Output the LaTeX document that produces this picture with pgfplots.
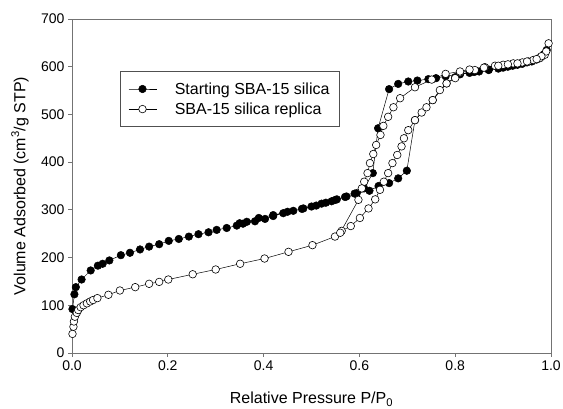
\documentclass[border=0pt]{standalone}
\usepackage{fontspec}
\setmainfont{Liberation Sans}
\usepackage{pgfplots}
\pgfplotsset{compat=1.18}
\definecolor{axgray}{gray}{0.45}

\begin{document}
\begin{tikzpicture}
\begin{axis}[
    name=ax,
    scale only axis,
    width=479pt, height=334pt,
    xmin=0, xmax=1, ymin=0, ymax=700,
    xtick={0,0.2,0.4,0.6,0.8,1.0},
    ytick={0,100,200,300,400,500,600,700},
    xticklabel style={/pgf/number format/.cd, fixed, fixed zerofill, precision=1},
    /pgf/number format/assume math mode=true,
    tick label style={font=\fontsize{14}{16}\selectfont},
    tick align=outside, tick pos=left,
    major tick length=4pt,
    axis line style={axgray, line width=0.9pt},
    every tick/.style={axgray, line width=0.9pt},
    legend style={at={(rel axis cs:0.1,0.844)}, anchor=north west,
        draw=axgray!70!black, line width=0.7pt,
        font=\fontsize{16}{19}\selectfont,
        cells={anchor=west}, inner xsep=8pt, inner ysep=9pt, row sep=3pt,
        /tikz/every odd column/.append style={column sep=16pt}},
    legend image code/.code={
        \draw[mark repeat=2, mark phase=2] plot coordinates {(0pt,0pt) (14pt,0pt) (28pt,0pt)};},
]
% starting SBA-15 silica: adsorption then desorption
\addplot[black, line width=0.5pt, mark=*, mark size=3.8pt, mark options={fill=black}] coordinates {
(0.001,92) (0.005,123) (0.008,138) (0.020,154) (0.039,173) (0.054,183) (0.064,187)
(0.078,194) (0.102,205) (0.121,210) (0.142,217) (0.161,223) (0.182,228) (0.202,235)
(0.223,239) (0.244,244) (0.264,249) (0.285,253) (0.302,258) (0.323,262) (0.344,267)
(0.357,271) (0.382,276) (0.403,281) (0.420,287) (0.441,293) (0.462,298) (0.483,303)
(0.500,307) (0.521,313) (0.542,318) (0.553,322) (0.573,328) (0.594,335) (0.621,340)
(0.640,350) (0.662,356) (0.681,366) (0.699,382)
(0.716,488) (0.753,530) (0.782,565) (0.800,578) (0.810,584) (0.830,587)
(0.850,590) (0.870,593) (0.890,596) (0.910,600) (0.930,604) (0.950,609) (0.970,615)
(0.980,621) (0.991,635)
(0.985,626) (0.975,618) (0.960,611) (0.940,606) (0.920,602) (0.900,598) (0.870,594)
(0.840,589) (0.810,585) (0.780,580) (0.760,576) (0.744,574) (0.721,571) (0.702,569)
(0.681,564) (0.662,553)
(0.639,471) (0.628,377) (0.610,345) (0.590,334) (0.570,327) (0.550,321) (0.530,315)
(0.510,309) (0.480,302) (0.450,296) (0.420,289) (0.390,283) (0.365,275) (0.350,272)
};
\addlegendentry{Starting SBA-15 silica}
% SBA-15 silica replica: adsorption then desorption
\addplot[black, line width=0.5pt, mark=*, mark size=3.8pt, mark options={fill=white, draw=black, line width=0.6pt}] coordinates {
(0.001,40) (0.003,55) (0.004,66) (0.006,76) (0.010,84) (0.013,90) (0.018,96)
(0.024,100) (0.031,104) (0.038,108) (0.044,111) (0.053,115) (0.076,122) (0.100,131)
(0.132,138) (0.161,145) (0.182,149) (0.201,154) (0.252,165) (0.300,175) (0.351,187)
(0.402,198) (0.452,212) (0.502,226) (0.549,244) (0.563,256) (0.582,266) (0.601,283)
(0.619,303) (0.633,322) (0.643,342) (0.651,359) (0.660,377) (0.669,398) (0.679,415)
(0.688,433) (0.693,450) (0.702,467) (0.716,488) (0.730,504) (0.740,515) (0.753,530)
(0.768,551) (0.782,565) (0.800,576) (0.810,588) (0.841,593) (0.862,599) (0.883,602)
(0.900,604) (0.921,607) (0.940,609) (0.953,611) (0.963,614) (0.977,618) (0.987,625)
(0.995,649)
(0.990,632) (0.980,622) (0.970,616) (0.950,611) (0.930,607) (0.910,605) (0.890,602)
(0.860,598) (0.830,594) (0.810,590) (0.780,585) (0.751,573) (0.716,557) (0.685,534)
(0.671,515) (0.660,495) (0.650,476) (0.644,457) (0.635,436) (0.629,417) (0.622,398)
(0.617,377) (0.610,359) (0.605,345) (0.598,321) (0.560,252)
};
\addlegendentry{SBA-15 silica replica}
\end{axis}
\node[font=\fontsize{16}{19}\selectfont, anchor=base] at ([yshift=-51pt]ax.south) {Relative Pressure P/P\textsubscript{0}};
\node[font=\fontsize{16}{19}\selectfont, rotate=90, anchor=center] at ([xshift=-52pt]ax.west) {Volume Adsorbed (cm\textsuperscript{3}/g STP)};
\pgfresetboundingbox
\path ([shift={(-72pt,-56pt)}]ax.south west) rectangle ([shift={(12pt,19pt)}]ax.north east);
\end{tikzpicture}
\end{document}
